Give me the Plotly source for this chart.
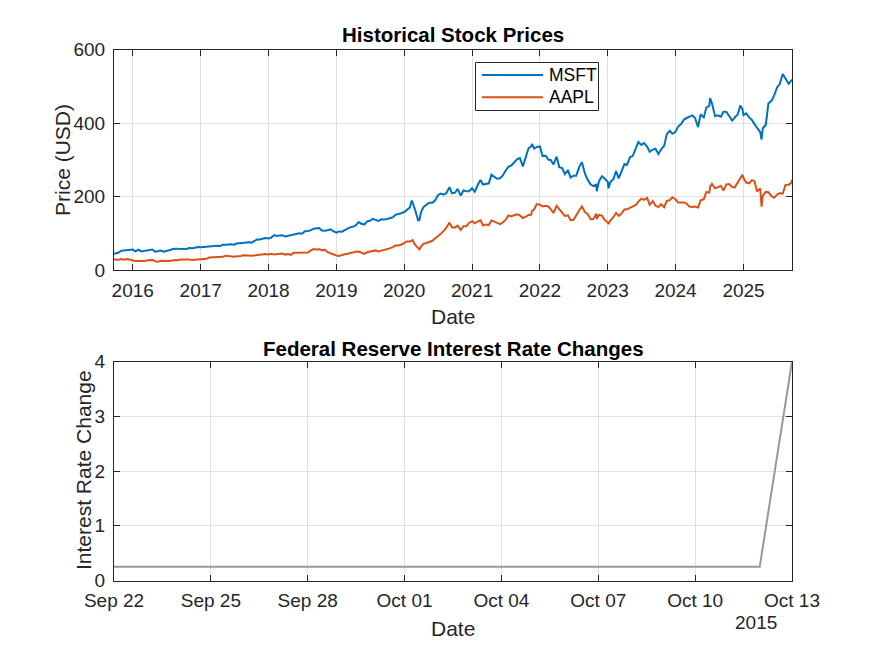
import plotly.graph_objects as go

# ---------------- data ----------------
dates = [
    "2015-09-22", "2015-10-01", "2015-10-15", "2015-11-01", "2015-11-15", "2015-12-01", "2015-12-15",
    "2016-01-01", "2016-01-15", "2016-02-01", "2016-02-15", "2016-03-01", "2016-03-15", "2016-04-01", "2016-04-15",
    "2016-05-01", "2016-05-15", "2016-06-01", "2016-06-15", "2016-07-01", "2016-07-15", "2016-08-01", "2016-08-15",
    "2016-09-01", "2016-09-15", "2016-10-01", "2016-10-15", "2016-11-01", "2016-11-15", "2016-12-01", "2016-12-15",
    "2017-01-01", "2017-01-15", "2017-02-01", "2017-02-15", "2017-03-01", "2017-03-15", "2017-04-01", "2017-04-15",
    "2017-05-01", "2017-05-15", "2017-06-01", "2017-06-15", "2017-07-01", "2017-07-15", "2017-08-01", "2017-08-15",
    "2017-09-01", "2017-09-15", "2017-10-01", "2017-10-15", "2017-11-01", "2017-11-15", "2017-12-01", "2017-12-15",
    "2018-01-01", "2018-01-15", "2018-02-01", "2018-02-15", "2018-03-01", "2018-03-15", "2018-04-01", "2018-04-15",
    "2018-05-01", "2018-05-15", "2018-06-01", "2018-06-15", "2018-07-01", "2018-07-15", "2018-08-01", "2018-08-15",
    "2018-09-01", "2018-09-15", "2018-10-01", "2018-10-15", "2018-11-01", "2018-11-15", "2018-12-01", "2018-12-15",
    "2019-01-01", "2019-01-15", "2019-02-01", "2019-02-15", "2019-03-01", "2019-03-15", "2019-04-01", "2019-04-15",
    "2019-05-01", "2019-05-15", "2019-06-01", "2019-06-15", "2019-07-01", "2019-07-15", "2019-08-01", "2019-08-15",
    "2019-09-01", "2019-09-15", "2019-10-01", "2019-10-15", "2019-11-01", "2019-11-15", "2019-12-01", "2019-12-15",
    "2020-01-01", "2020-01-15", "2020-02-01", "2020-02-10", "2020-02-15", "2020-03-01", "2020-03-16", "2020-03-23",
    "2020-04-01", "2020-04-15", "2020-05-01", "2020-05-15", "2020-06-01", "2020-06-15", "2020-07-01", "2020-07-15",
    "2020-08-01", "2020-08-15", "2020-09-01", "2020-09-15", "2020-10-01", "2020-10-15", "2020-11-01", "2020-11-15",
    "2020-12-01", "2020-12-15",
    "2021-01-01", "2021-01-15", "2021-02-01", "2021-02-15", "2021-03-01", "2021-03-15", "2021-04-01", "2021-04-15",
    "2021-05-01", "2021-05-15", "2021-06-01", "2021-06-15", "2021-07-01", "2021-07-15", "2021-08-01", "2021-08-15",
    "2021-09-01", "2021-09-15", "2021-10-01", "2021-10-15", "2021-11-01", "2021-11-15", "2021-11-19", "2021-12-01",
    "2021-12-15",
    "2022-01-01", "2022-01-15", "2022-02-01", "2022-02-15", "2022-03-01", "2022-03-15", "2022-04-01", "2022-04-15",
    "2022-05-01", "2022-05-15", "2022-06-01", "2022-06-15", "2022-07-01", "2022-07-15", "2022-08-01", "2022-08-15",
    "2022-09-01", "2022-09-15", "2022-10-01", "2022-10-15", "2022-11-01", "2022-11-03", "2022-11-15", "2022-12-01",
    "2022-12-15",
    "2023-01-01", "2023-01-05", "2023-01-15", "2023-02-01", "2023-02-15", "2023-03-01", "2023-03-15", "2023-04-01",
    "2023-04-15", "2023-05-01", "2023-05-15", "2023-06-01", "2023-06-15", "2023-07-01", "2023-07-15", "2023-08-01",
    "2023-08-15", "2023-09-01", "2023-09-15", "2023-10-01", "2023-10-15", "2023-11-01", "2023-11-15", "2023-12-01",
    "2023-12-15",
    "2024-01-01", "2024-01-15", "2024-02-01", "2024-02-15", "2024-03-01", "2024-03-15", "2024-04-01", "2024-04-15",
    "2024-05-01", "2024-05-15", "2024-06-01", "2024-06-15", "2024-07-01", "2024-07-05", "2024-07-15", "2024-08-01",
    "2024-08-15", "2024-09-01", "2024-09-15", "2024-10-01", "2024-10-15", "2024-11-01", "2024-11-15", "2024-12-01",
    "2024-12-15", "2024-12-26",
    "2025-01-01", "2025-01-15", "2025-02-01", "2025-02-15", "2025-03-01", "2025-03-15", "2025-04-01", "2025-04-08",
    "2025-04-15", "2025-05-01", "2025-05-15", "2025-06-01", "2025-06-15", "2025-07-01", "2025-07-15", "2025-07-31",
    "2025-08-15", "2025-09-01", "2025-09-15", "2025-09-19",
]

msft = [
    43.9, 44.6, 47.0, 52.6, 53.0, 55.2, 55.2,
    55.5, 51.0, 55.1, 50.5, 52.0, 53.6, 55.6, 55.7, 49.9, 51.0, 53.0, 49.8, 51.2, 53.7, 56.6, 58.0,
    57.5, 57.2, 57.6, 57.4, 59.9, 58.9, 60.3, 62.6,
    62.1, 62.7, 64.6, 64.5, 64.0, 64.8, 65.9, 65.5, 68.5, 68.4, 69.8, 69.9, 68.9, 72.8, 72.7, 73.6,
    74.8, 75.3, 74.5, 77.5, 83.2, 83.0, 84.2, 86.9,
    85.5, 88.4, 95.0, 92.7, 93.8, 94.2, 91.3, 93.1, 93.5, 97.2, 98.8, 100.1, 98.6, 105.4, 106.1, 107.7,
    112.3, 113.4, 114.4, 107.6, 106.8, 108.3, 110.9, 106.0,
    101.6, 105.0, 104.4, 108.2, 112.0, 115.9, 117.9, 121.0, 130.6, 126.0, 123.7, 132.5, 134.0, 138.9, 136.3, 133.7,
    137.9, 137.3, 139.0, 141.6, 143.4, 150.0, 151.4, 154.5,
    157.7, 163.2, 170.2, 188.7, 184.7, 162.0, 135.4, 136.0, 157.7, 171.9, 179.2, 183.2, 183.3, 188.9, 203.5, 208.0,
    205.0, 208.9, 225.5, 208.8, 210.3, 220.9, 202.5, 216.5, 214.1, 214.1,
    222.4, 212.7, 232.0, 245.0, 232.4, 234.8, 235.8, 259.5, 252.2, 248.2, 249.7, 257.4, 270.9, 281.0, 284.9, 293.0,
    301.9, 304.8, 281.9, 304.2, 331.6, 336.1, 343.1, 330.6, 334.9,
    336.3, 310.2, 311.0, 300.5, 298.8, 287.2, 308.3, 280.0, 277.5, 261.1, 271.9, 251.8, 256.8, 256.7, 280.7, 293.5,
    261.5, 245.4, 232.9, 228.6, 232.1, 214.3, 241.7, 255.1, 249.0,
    239.8, 222.3, 239.2, 247.8, 269.3, 249.4, 265.4, 288.3, 286.1, 307.3, 309.5, 328.4, 348.1, 340.5, 345.2, 335.9,
    321.9, 327.8, 330.2, 315.8, 327.7, 338.1, 369.7, 378.9, 370.7,
    376.0, 390.3, 397.6, 409.5, 413.6, 416.4, 420.7, 413.6, 389.3, 423.1, 415.1, 442.6, 446.9, 467.6, 453.6, 418.4,
    421.0, 417.1, 430.6, 430.3, 418.7, 406.4, 415.0, 423.5, 447.3, 438.1,
    421.5, 426.3, 415.1, 408.4, 397.0, 388.6, 375.4, 354.6, 385.7, 395.3, 453.1, 460.4, 475.0, 497.4, 505.8, 533.5,
    520.2, 506.7, 515.4, 517.9,
]

aapl = [
    28.4, 27.6, 27.8, 29.9, 28.1, 29.6, 27.6,
    26.3, 24.3, 24.3, 23.9, 24.2, 26.1, 27.2, 27.5, 23.4, 22.6, 25.0, 24.4, 23.9, 24.7, 26.1, 27.3,
    26.5, 28.7, 28.3, 29.2, 28.4, 26.9, 27.6, 28.9,
    29.0, 29.8, 30.3, 33.8, 34.2, 35.1, 35.9, 35.2, 35.9, 39.0, 38.2, 36.2, 36.0, 37.3, 37.2, 40.2,
    41.0, 39.7, 38.5, 39.4, 42.3, 42.2, 43.0, 43.6,
    42.3, 44.1, 41.9, 43.1, 44.5, 44.6, 41.9, 43.5, 41.3, 46.6, 46.7, 47.2, 46.3, 47.6, 47.6, 52.6,
    56.9, 55.9, 56.4, 54.1, 54.7, 48.4, 44.6, 41.4,
    39.4, 38.1, 41.6, 42.6, 43.3, 46.5, 47.5, 49.9, 50.2, 47.2, 43.8, 48.2, 49.5, 51.0, 53.3, 50.4,
    52.2, 54.7, 56.0, 58.8, 62.2, 66.4, 66.8, 68.8,
    73.4, 77.8, 77.4, 80.4, 81.2, 68.3, 60.6, 56.1, 63.6, 71.7, 73.4, 76.9, 79.5, 85.7, 91.2, 97.7,
    106.3, 114.9, 129.0, 115.5, 115.8, 120.7, 108.9, 119.3, 119.1, 127.9,
    132.7, 127.1, 132.0, 135.4, 121.3, 124.0, 122.2, 134.5, 131.5, 127.5, 124.6, 129.6, 137.0, 148.5, 145.9, 149.1,
    151.8, 149.0, 141.5, 144.8, 149.8, 150.0, 160.6, 165.3, 179.3,
    177.6, 173.1, 174.8, 172.8, 165.1, 155.1, 174.6, 165.3, 157.7, 147.1, 148.8, 135.4, 136.7, 150.2, 162.5, 173.2,
    157.2, 152.4, 138.2, 138.4, 153.3, 138.9, 150.0, 148.0, 136.5,
    129.9, 125.0, 134.8, 144.3, 155.3, 147.4, 153.0, 164.9, 165.2, 169.7, 172.1, 177.3, 186.0, 194.0, 190.7, 196.4,
    177.5, 187.9, 175.0, 171.2, 178.9, 170.8, 188.0, 190.0, 197.6,
    192.5, 183.6, 184.4, 183.9, 180.8, 172.6, 171.5, 172.7, 170.3, 189.7, 192.3, 212.5, 210.6, 226.3, 234.4, 222.1,
    224.7, 229.0, 216.3, 233.0, 233.9, 225.9, 225.0, 237.3, 248.1, 259.0,
    250.4, 237.9, 236.0, 244.6, 241.8, 213.5, 222.1, 172.4, 202.1, 212.5, 211.5, 200.9, 196.5, 205.2, 209.1, 207.6,
    231.6, 232.1, 236.7, 245.5,
]

rate_dates = [
    "2015-09-22", "2015-09-23", "2015-09-24", "2015-09-25", "2015-09-26", "2015-09-27", "2015-09-28",
    "2015-09-29", "2015-09-30", "2015-10-01", "2015-10-02", "2015-10-03", "2015-10-04", "2015-10-05",
    "2015-10-06", "2015-10-07", "2015-10-08", "2015-10-09", "2015-10-10", "2015-10-11", "2015-10-12",
    "2015-10-13",
]
rate_change = [
    0.25, 0.25, 0.25, 0.25, 0.25, 0.25, 0.25,
    0.25, 0.25, 0.25, 0.25, 0.25, 0.25, 0.25,
    0.25, 0.25, 0.25, 0.25, 0.25, 0.25, 0.25,
    4.0,
]

series_names = ["MSFT", "AAPL"]
series_colors = ["#0072BD", "#D95319"]
year_ticks = ["2016", "2017", "2018", "2019", "2020", "2021", "2022", "2023", "2024", "2025"]
price_ticks = [0, 200, 400, 600]
rate_ticks = [0, 1, 2, 3, 4]
rate_tick_dates = ["2015-09-22", "2015-09-25", "2015-09-28", "2015-10-01",
                   "2015-10-04", "2015-10-07", "2015-10-10", "2015-10-13"]

# ---------------- layout helpers ----------------
W, H = 875, 656
def px(x):
    return x / W
def py(y):
    return 1 - y / H

FONT = "Liberation Sans, Arial, Helvetica, sans-serif"
AX = "#262626"

fig = go.Figure()
for name, vals, col in zip(series_names, [msft, aapl], series_colors):
    fig.add_trace(go.Scatter(x=dates, y=vals, mode="lines", name=name,
                             line=dict(color=col, width=2), xaxis="x", yaxis="y",
                             showlegend=False))
fig.add_trace(go.Scatter(x=rate_dates, y=rate_change, mode="lines", name="Rate change",
                         line=dict(color="#999999", width=2), xaxis="x2", yaxis="y2",
                         showlegend=False))

common = dict(showline=True, linecolor=AX, linewidth=1, mirror="ticks",
              ticks="inside", ticklen=6, tickcolor=AX, tickwidth=1, automargin=False,
              showgrid=True, gridcolor="#e1e1e1", gridwidth=1, zeroline=False,
              tickfont=dict(family=FONT, size=19, color=AX))

fig.update_layout(
    width=W, height=H,
    margin=dict(l=0, r=0, t=0, b=0),
    paper_bgcolor="white", plot_bgcolor="white",
    xaxis=dict(domain=[px(114), px(792)], anchor="y", type="date",
               range=["2015-09-22", "2025-09-19"],
               tickvals=[y + "-01-01" for y in year_ticks], ticktext=year_ticks,
               ticklabelstandoff=3, **common),
    yaxis=dict(domain=[py(270), py(49.5)], anchor="x", range=[0, 600],
               tickvals=price_ticks, ticklabelstandoff=4, **common),
    xaxis2=dict(domain=[px(114), px(792)], anchor="y2", type="date",
                range=["2015-09-22", "2015-10-13"],
                tickvals=rate_tick_dates, tickformat="%b %d",
                ticklabelstandoff=3, **common),
    yaxis2=dict(domain=[py(580.5), py(361.5)], anchor="x2", range=[0, 4],
                tickvals=rate_ticks, ticklabelstandoff=4, **common),
)

ann = []
def text(x, y, s, size=21, bold=False, angle=0, xanchor="center", color=AX):
    ann.append(dict(x=px(x), y=py(y), xref="paper", yref="paper", text=(f"<b>{s}</b>" if bold else s),
                    showarrow=False, xanchor=xanchor, yanchor="middle", textangle=angle,
                    font=dict(family=FONT, size=size, color=color)))

text(453, 35, "Historical Stock Prices", size=20.5, bold=True, color="#000000")
text(453, 316, "Date", size=21)
text(62, 160, "Price (USD)", size=21, angle=-90)
text(453, 348, "Federal Reserve Interest Rate Changes", size=20.5, bold=True, color="#000000")
text(453, 628, "Date", size=21)
text(83, 470, "Interest Rate Change", size=21, angle=-90)
text(779, 622, "2015", size=19, xanchor="right")

# legend (drawn box)
shapes = [dict(type="rect", xref="paper", yref="paper", x0=px(475.5), x1=px(598.5),
               y0=py(110.5), y1=py(62.5), line=dict(color=AX, width=1), fillcolor="white")]
for i, (name, col) in enumerate(zip(series_names, series_colors)):
    yy = 75 + i * 22.3
    shapes.append(dict(type="line", xref="paper", yref="paper", x0=px(482), x1=px(543),
                       y0=py(yy), y1=py(yy), line=dict(color=col, width=2)))
    text(547, yy, name, size=17.5, xanchor="left", color="#000000")

fig.update_layout(annotations=ann, shapes=shapes)
fig.write_html("out.html")
